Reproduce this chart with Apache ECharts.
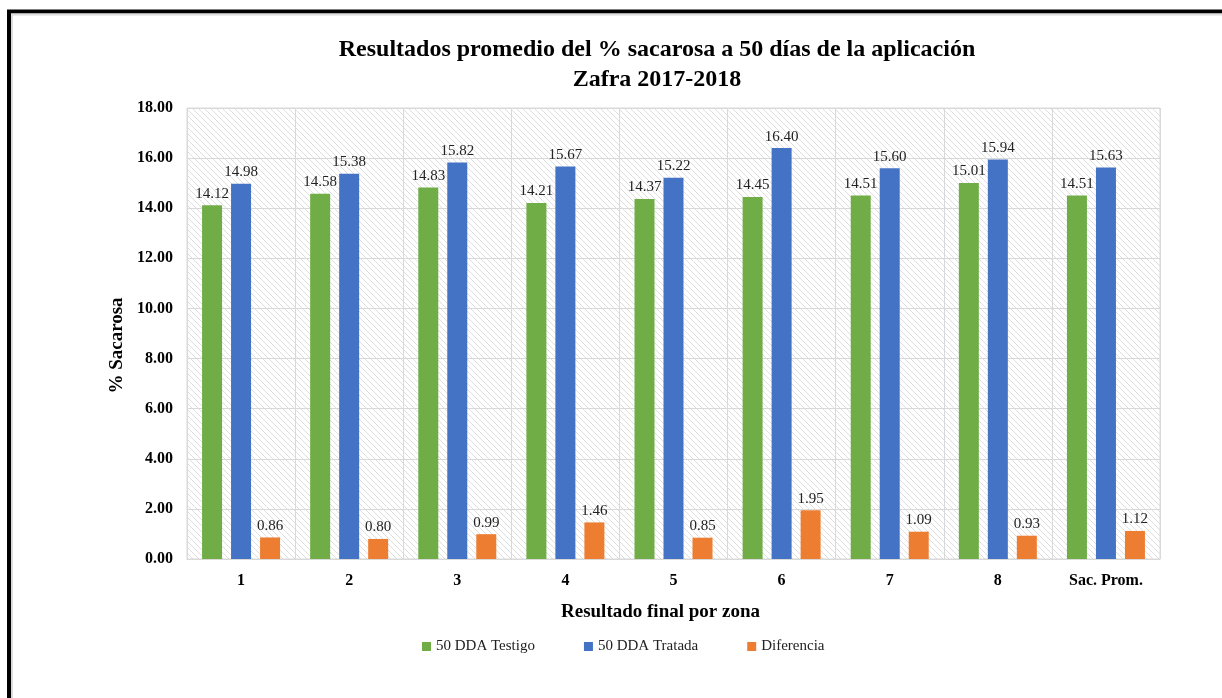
<!DOCTYPE html>
<html>
<head>
<meta charset="utf-8">
<script src="https://cdn.jsdelivr.net/npm/echarts@6/dist/echarts.min.js"></script>
<style>
  html, body {
    margin: 0;
    padding: 0;
    background: #fff;
  }
  #container {
    width: 1222px;
    height: 698px;
  }
</style>
</head>
<body>
<div id="container"></div>
<script type="text/javascript">
var categories = ['1', '2', '3', '4', '5', '6', '7', '8', 'Sac. Prom.'];
var testigo = [14.12, 14.58, 14.83, 14.21, 14.37, 14.45, 14.51, 15.01, 14.51];
var tratada = [14.98, 15.38, 15.82, 15.67, 15.22, 16.40, 15.60, 15.94, 15.63];
var diferencia = [0.86, 0.80, 0.99, 1.46, 0.85, 1.95, 1.09, 0.93, 1.12];
var seriesNames = ['50 DDA Testigo', '50 DDA Tratada', 'Diferencia'];

// diagonal hatch for the plot area
var hatch = document.createElement('canvas');
hatch.width = 6;
hatch.height = 6;
var hc = hatch.getContext('2d');
hc.fillStyle = '#ffffff';
hc.fillRect(0, 0, 6, 6);
hc.strokeStyle = '#dedede';
hc.lineWidth = 1;
hc.beginPath();
hc.moveTo(-1, -1); hc.lineTo(7, 7);
hc.moveTo(-1, 5); hc.lineTo(1, 7);
hc.moveTo(5, -1); hc.lineTo(7, 1);
hc.stroke();

var serif = '"Liberation Serif", "Times New Roman", serif';
var dom = document.getElementById('container');
var myChart = echarts.init(dom);

function barSeries(name, data, color) {
    return {
        name: name,
        type: 'bar',
        barWidth: 20,
        barGap: '45%',
        itemStyle: { color: color },
        label: {
            show: true,
            position: 'top',
            distance: 4,
            color: '#222',
            fontFamily: serif,
            fontSize: 15,
            formatter: function (p) { return p.value.toFixed(2); }
        },
        data: data
    };
}

var option = {
    animation: false,
    title: {
        text: 'Resultados promedio del % sacarosa a 50 días de la aplicación\nZafra 2017-2018',
        left: 652,
        top: 30,
        textAlign: 'center',
        textStyle: {
            fontFamily: serif,
            fontSize: 24,
            fontWeight: 'bold',
            color: '#000',
            lineHeight: 30
        }
    },
    legend: {
        left: 417,
        top: 634,
        itemWidth: 9,
        itemHeight: 9,
        itemGap: 49,
        icon: 'rect',
        textStyle: { fontFamily: serif, fontSize: 15, color: '#222' },
        data: seriesNames
    },
    grid: {
        left: 187,
        right: 62,
        top: 108,
        bottom: 139,
        show: true,
        borderColor: '#d9d9d9',
        borderWidth: 1,
        backgroundColor: { image: hatch, repeat: 'repeat' }
    },
    xAxis: {
        type: 'category',
        data: categories,
        name: 'Resultado final por zona',
        nameLocation: 'middle',
        nameGap: 44,
        nameTextStyle: { fontFamily: serif, fontSize: 19, fontWeight: 'bold', color: '#000', padding: [0, 26, 0, 0] },
        axisLine: { lineStyle: { color: '#d9d9d9' } },
        axisTick: { show: false },
        axisLabel: { fontFamily: serif, fontSize: 16, fontWeight: 'bold', color: '#000', margin: 14 },
        splitLine: { show: true, lineStyle: { color: '#d9d9d9' } }
    },
    yAxis: {
        type: 'value',
        min: 0,
        max: 18,
        interval: 2,
        name: '% Sacarosa',
        nameLocation: 'middle',
        nameGap: 44,
        nameTextStyle: { fontFamily: serif, fontSize: 19, fontWeight: 'bold', color: '#000', padding: [0, 24, 0, 0] },
        axisLine: { show: false },
        axisTick: { show: false },
        axisLabel: {
            fontFamily: serif, fontSize: 16, fontWeight: 'bold', color: '#000', margin: 14,
            formatter: function (v) { return v.toFixed(2); }
        },
        splitLine: { lineStyle: { color: '#d9d9d9' } }
    },
    series: [
        barSeries(seriesNames[0], testigo, '#70ad47'),
        barSeries(seriesNames[1], tratada, '#4472c4'),
        barSeries(seriesNames[2], diferencia, '#ed7d31')
    ],
    graphic: [
        { type: 'line', shape: { x1: 7, y1: 11.5, x2: 1222, y2: 11.5 }, style: { stroke: '#000', lineWidth: 4 } },
        { type: 'line', shape: { x1: 9, y1: 10, x2: 9, y2: 698 }, style: { stroke: '#000', lineWidth: 4 } },
        { type: 'line', shape: { x1: 11, y1: 14.5, x2: 1222, y2: 14.5 }, style: { stroke: '#dcdcdc', lineWidth: 2 } },
        { type: 'line', shape: { x1: 12, y1: 14, x2: 12, y2: 698 }, style: { stroke: '#dcdcdc', lineWidth: 2 } }
    ]
};
myChart.setOption(option);
</script>
</body>
</html>
